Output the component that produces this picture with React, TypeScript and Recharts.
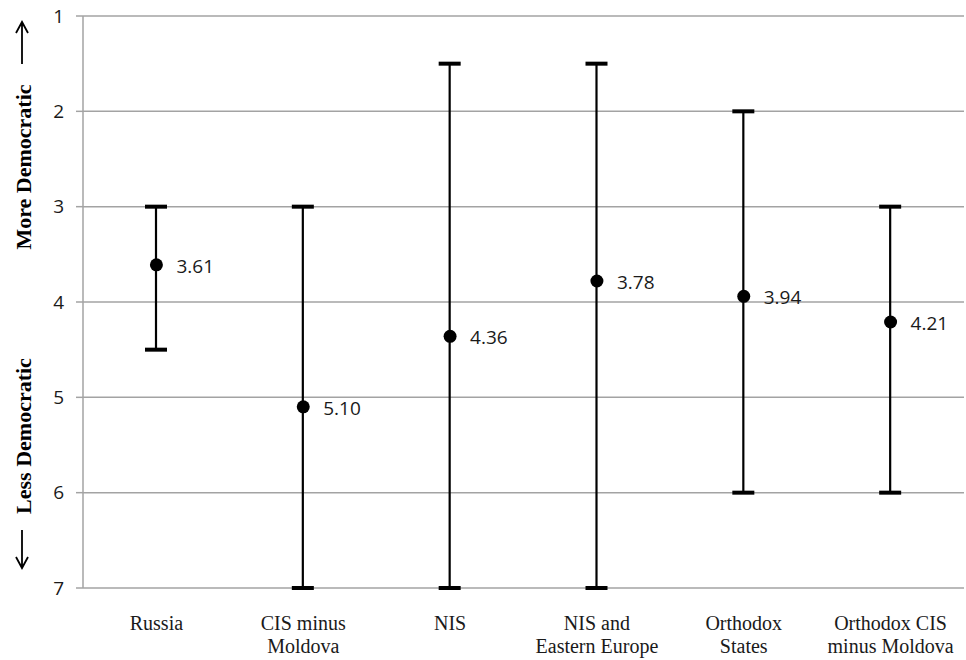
import React from 'react';
import {
  ComposedChart,
  Bar,
  Scatter,
  XAxis,
  YAxis,
  CartesianGrid,
  Label
} from 'recharts';

const categories = [
  ['Russia'],
  ['CIS minus', 'Moldova'],
  ['NIS'],
  ['NIS and', 'Eastern Europe'],
  ['Orthodox', 'States'],
  ['Orthodox CIS', 'minus Moldova']
];
const means = [3.61, 5.1, 4.36, 3.78, 3.94, 4.21];
const lows = [3, 3, 1.5, 1.5, 2, 3];
const highs = [4.5, 7, 7, 7, 6, 6];
const yTicks = [1, 2, 3, 4, 5, 6, 7];

const GRID = '#a3a3a3';
const SERIF = '"Liberation Serif", "Times New Roman", serif';
const SANS = '"Open Sans", "Noto Sans", sans-serif';

const data = categories.map((lines, i) => ({
  pos: i + 0.5,
  lines,
  mean: means[i],
  range: [lows[i], highs[i]]
}));

const boundaryTicks = categories.map((_, i) => i).concat([categories.length]);
const centerTicks = data.map((d) => d.pos);

const RangeShape = (props: any) => {
  const { x, y, width, height } = props;
  const cx = x + width / 2;
  const y1 = Math.min(y, y + height);
  const y2 = Math.max(y, y + height);
  return (
    <g>
      <line x1={cx} x2={cx} y1={y1} y2={y2} stroke="#000" strokeWidth={2.2} />
      <rect x={cx - 11} y={y1 - 2} width={22} height={4} fill="#000" />
      <rect x={cx - 11} y={y2 - 2} width={22} height={4} fill="#000" />
    </g>
  );
};

const MeanShape = (props: any) => {
  const { cx, cy, payload } = props;
  return (
    <g>
      <circle cx={cx} cy={cy} r={6.5} fill="#000" />
      <text
        x={cx + 20}
        y={cy + 1}
        dominantBaseline="central"
        fontFamily={SANS}
        fontSize={19}
        fill="#1a1a1a"
      >
        {payload.mean.toFixed(2)}
      </text>
    </g>
  );
};

const CategoryTick = (props: any) => {
  const { x, y, index } = props;
  const lines = categories[index] || [];
  return (
    <text x={x} y={y} textAnchor="middle" fontFamily={SERIF} fontSize={20} fill="#1a1a1a">
      {lines.map((l: string, i: number) => (
        <tspan key={i} x={x} dy={i === 0 ? 34 : 23}>
          {l}
        </tspan>
      ))}
    </text>
  );
};

const AxisTitle = (props: any) => {
  const vb = props.viewBox;
  const top = vb.y;
  const bottom = vb.y + vb.height;
  const ax = 22;
  const upTip = top + 6;
  const downTip = bottom - 20;
  return (
    <g fill="#000" stroke="none">
      <path
        d={`M${ax},${upTip + 42} L${ax},${upTip} M${ax - 6},${upTip + 11} L${ax},${upTip} L${ax + 6},${upTip + 11}`}
        stroke="#000"
        strokeWidth={1.8}
        fill="none"
      />
      <text
        x={ax + 1}
        y={top + 151}
        transform={`rotate(-90, ${ax + 1}, ${top + 151})`}
        textAnchor="middle"
        dominantBaseline="central"
        fontFamily={SERIF}
        fontWeight="bold"
        fontSize={22}
      >
        More Democratic
      </text>
      <text
        x={ax + 1}
        y={bottom - 152}
        transform={`rotate(-90, ${ax + 1}, ${bottom - 152})`}
        textAnchor="middle"
        dominantBaseline="central"
        fontFamily={SERIF}
        fontWeight="bold"
        fontSize={22}
      >
        Less Democratic
      </text>
      <path
        d={`M${ax},${downTip - 38} L${ax},${downTip} M${ax - 6},${downTip - 11} L${ax},${downTip} L${ax + 6},${downTip - 11}`}
        stroke="#000"
        strokeWidth={1.8}
        fill="none"
      />
    </g>
  );
};

const App = () => {
  return (
    <div style={{ position: 'absolute', left: 0, top: 0, width: 966, height: 660, background: '#fff' }}>
      <ComposedChart
        width={966}
        height={660}
        data={data}
        margin={{ top: 16, right: 2, bottom: 0, left: 0 }}
      >
        <CartesianGrid vertical={false} stroke={GRID} strokeWidth={1.5} />
        <XAxis
          xAxisId="top"
          orientation="top"
          type="number"
          dataKey="pos"
          domain={[0, 6]}
          ticks={boundaryTicks}
          height={0}
          tick={false}
          tickSize={5}
          stroke={GRID}
          strokeWidth={1.5}
        />
        <XAxis
          xAxisId="bottom"
          type="number"
          dataKey="pos"
          domain={[0, 6]}
          ticks={centerTicks}
          height={72}
          axisLine={false}
          tickLine={false}
          tick={<CategoryTick />}
          interval={0}
        />
        <YAxis
          type="number"
          domain={[1, 7]}
          reversed
          ticks={yTicks}
          width={83}
          tickSize={7}
          tickMargin={12}
          stroke={GRID}
          strokeWidth={1.5}
          tick={{ fill: '#1a1a1a', fontSize: 19, fontFamily: SANS }}
        >
          <Label content={<AxisTitle />} />
        </YAxis>
        <Bar
          xAxisId="bottom"
          dataKey="range"
          barSize={24}
          shape={<RangeShape />}
          isAnimationActive={false}
        />
        <Scatter
          xAxisId="bottom"
          dataKey="mean"
          shape={<MeanShape />}
          isAnimationActive={false}
        />
      </ComposedChart>
    </div>
  );
};

export default App;
